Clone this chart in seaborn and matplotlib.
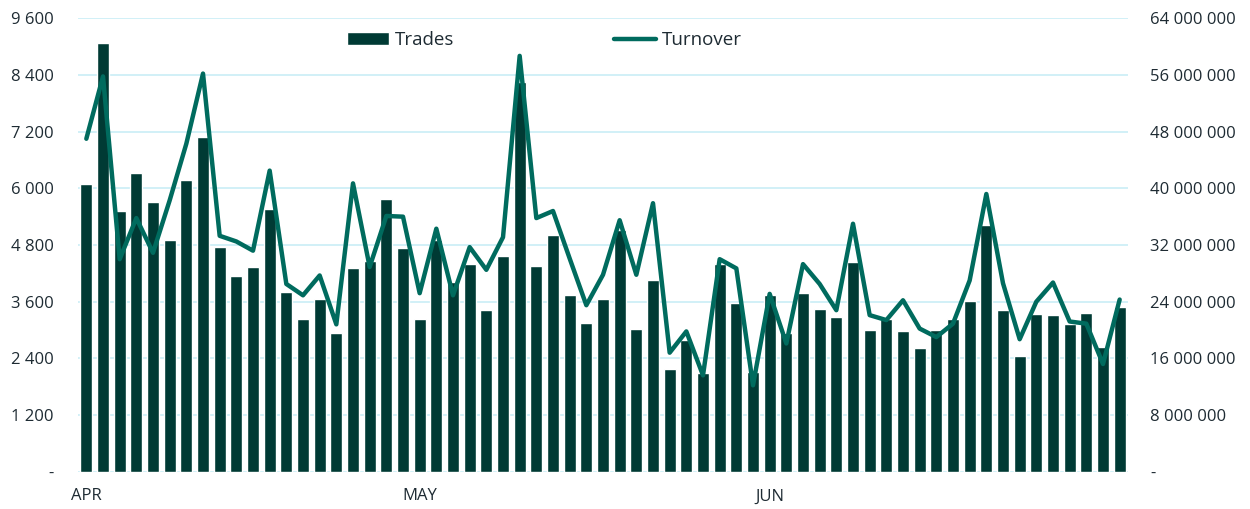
import pandas as pd
import seaborn as sns
from matplotlib import pyplot as plt
from matplotlib.ticker import FuncFormatter

# daily trades (left axis) and turnover (right axis), Apr-Jun
TRADES = [
    6090, 9080, 5530, 6320, 5710, 4910, 6180, 7090, 4760, 4140,
    4330, 5570, 3800, 3230, 3650, 2940, 4310, 4460, 5780, 4740,
    3230, 4900, 4020, 4400, 3420, 4570, 8260, 4360, 5010, 3740,
    3150, 3660, 5120, 3030, 4060, 2170, 2790, 2080, 4400, 3570,
    2110, 3740, 2940, 3780, 3440, 3280, 4430, 3010, 3230, 2980,
    2620, 3000, 3230, 3620, 5220, 3420, 2460, 3330, 3320, 3130,
    3350, 2630, 3480,
]
TURNOVER = [
    47000000, 55800000, 30000000, 35800000, 30900000, 38300000, 46300000, 56200000, 33300000, 32500000,
    31200000, 42500000, 26500000, 24900000, 27700000, 20800000, 40700000, 28900000, 36100000, 36000000,
    25200000, 34300000, 24900000, 31700000, 28500000, 33100000, 58700000, 35800000, 36800000, 30100000,
    23500000, 27800000, 35500000, 27800000, 37900000, 16800000, 19800000, 13600000, 30000000, 28700000,
    12200000, 25100000, 18100000, 29300000, 26500000, 22800000, 35000000, 22100000, 21400000, 24200000,
    20200000, 19000000, 20900000, 27000000, 39200000, 26600000, 18700000, 24000000, 26700000, 21200000,
    20900000, 15200000, 24300000,
]
MONTH_POS = [0, 20, 41]
MONTH_LABELS = ["APR", "MAY", "JUN"]

BAR_COLOR = "#003A34"
LINE_COLOR = "#006B5E"
GRID_COLOR = "#C9EEF6"
TEXT_COLOR = "#1E2B33"


def spaced(v, _pos=None):
    if v == 0:
        return "-"
    return f"{int(round(v)):,}".replace(",", " ")


def main() -> None:
    sns.set_theme(style="white")
    plt.rcParams["font.family"] = ["Open Sans", "DejaVu Sans"]

    df = pd.DataFrame({
        "day": list(range(len(TRADES))),
        "trades": TRADES,
        "turnover": TURNOVER,
    })

    fig = plt.figure(figsize=(12.5, 5.09), dpi=100)
    ax = fig.add_axes([0.0624, 0.0733, 0.84, 0.8907])

    sns.barplot(data=df, x="day", y="trades", color=BAR_COLOR, saturation=1,
                width=0.72, ax=ax, label="Trades")
    ax2 = ax.twinx()
    sns.lineplot(x=df["day"], y=df["turnover"], color=LINE_COLOR, linewidth=3.2,
                 ax=ax2, label="Turnover", solid_joinstyle="round",
                 solid_capstyle="round")

    ax.set_ylim(0, 9600)
    ax.set_yticks(range(0, 9601, 1200))
    ax.yaxis.set_major_formatter(FuncFormatter(spaced))
    ax2.set_ylim(0, 64000000)
    ax2.set_yticks(range(0, 64000001, 8000000))
    ax2.yaxis.set_major_formatter(FuncFormatter(spaced))
    ax.set_xlim(-0.5, len(TRADES) - 0.5)

    ax.set_xticks(MONTH_POS)
    ax.set_xticklabels(MONTH_LABELS)
    ax.set_xlabel("")
    ax.set_ylabel("")
    ax2.set_ylabel("")

    ax.grid(axis="y", color=GRID_COLOR, linewidth=1.2)
    ax.set_axisbelow(True)
    ax2.grid(False)
    for a in (ax, ax2):
        for s in a.spines.values():
            s.set_visible(False)
    ax.tick_params(axis="y", length=0, pad=17.5, labelsize=12, labelcolor=TEXT_COLOR)
    ax2.tick_params(axis="y", length=0, pad=16, labelsize=12, labelcolor=TEXT_COLOR)
    ax.tick_params(axis="x", length=0, pad=12, labelsize=12, labelcolor=TEXT_COLOR)

    h1, l1 = ax.get_legend_handles_labels()
    h2, l2 = ax2.get_legend_handles_labels()
    for a in (ax, ax2):
        if a.get_legend():
            a.get_legend().remove()
    ax2.legend(h1 + h2, l1 + l2, loc="center", bbox_to_anchor=(0.444, 0.952),
               ncol=2, frameon=False, fontsize=13.5, columnspacing=8.5,
               handlelength=2.25, handleheight=0.7, handletextpad=0.3,
               labelcolor=TEXT_COLOR)

    fig.savefig("out.png", dpi=100)
    plt.close(fig)


if __name__ == "__main__":
    main()
